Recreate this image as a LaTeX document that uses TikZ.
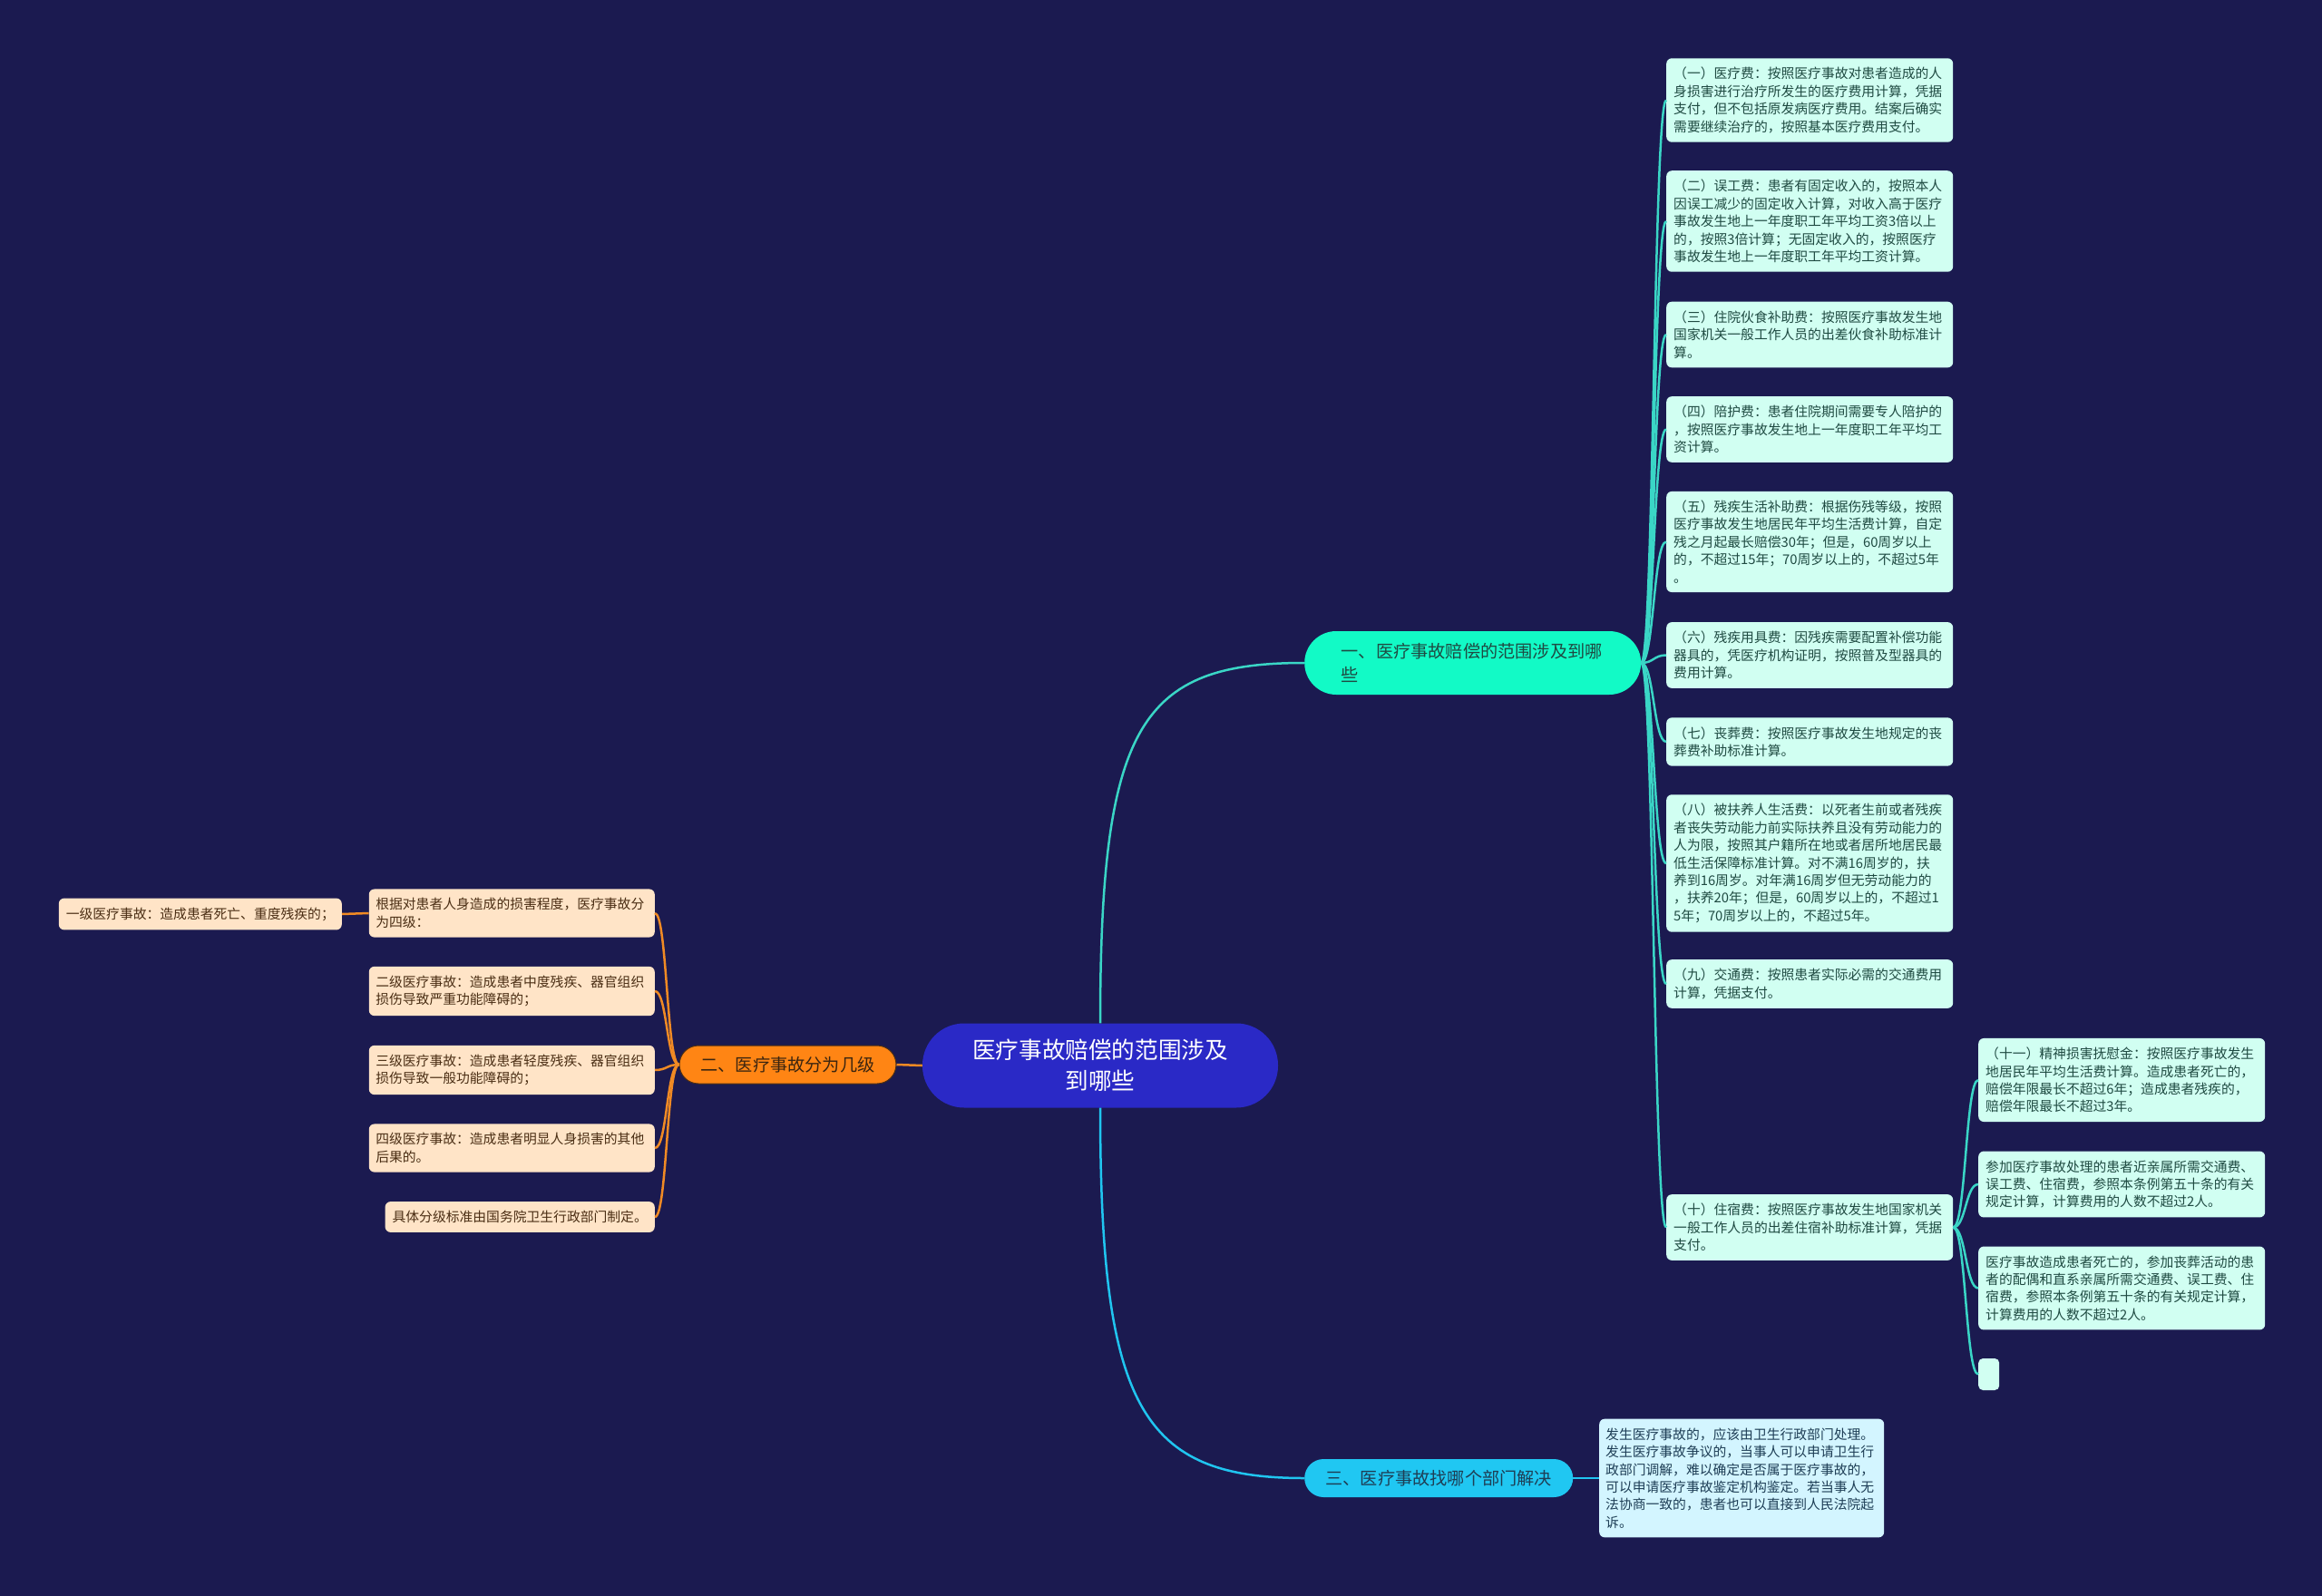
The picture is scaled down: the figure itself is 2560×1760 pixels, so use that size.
\documentclass[tikz,border=0pt]{standalone}
\usepackage{fontspec}
\setmainfont{Noto Sans CJK SC}
\usepackage{tikz}

\definecolor{bgnavy}{HTML}{1B1A50}
\definecolor{hubblue}{HTML}{2A29C6}
\definecolor{mintfill}{HTML}{12FAC6}
\definecolor{orangefill}{HTML}{FF8514}
\definecolor{skyfill}{HTML}{20C7F2}
\definecolor{cardmint}{HTML}{D1FFF2}
\definecolor{cardpeach}{HTML}{FFE4C7}
\definecolor{cardsky}{HTML}{D3F5FF}
\definecolor{inkmint}{HTML}{1F4A42}
\definecolor{inkpeach}{HTML}{4A2E14}
\definecolor{inksky}{HTML}{1E3E55}
\definecolor{wireteal}{HTML}{3AD6C6}
\definecolor{wirecyan}{HTML}{20C5F0}
\definecolor{wireorange}{HTML}{F08A24}

\begin{document}
\begin{tikzpicture}[
  x=1pt,
  y=-1pt,
  hub/.style={fill=hubblue,text=white,rounded corners=46pt,minimum width=392pt,
    minimum height=93pt,inner sep=0pt,align=center,font=\fontsize{25.6}{34}\selectfont},
  topic/.style={rounded corners=21pt,minimum height=42pt,inner sep=0pt,
    font=\fontsize{19.2}{26}\selectfont},
  card/.style={rounded corners=6pt,text width=300pt,inner xsep=8pt,inner ysep=10pt,
    align=left,font=\fontsize{14.8}{19.4}\selectfont},
  mint/.style={card,fill=cardmint,text=inkmint},
  peach/.style={card,fill=cardpeach,text=inkpeach},
  sky/.style={card,fill=cardsky,text=inksky},
  tealwire/.style={draw=wireteal,line width=2.5pt},
  cyanwire/.style={draw=wirecyan,line width=2.5pt},
  orangewire/.style={draw=wireorange,line width=2.5pt}
]
\fill[bgnavy] (0,0) rectangle (2560,1760);

% centre and the three branches
\node[hub] (root) at (1213,1175) {医疗事故赔偿的范围涉及\\到哪些};
\node[topic,fill=mintfill,text=inkmint,rounded corners=35pt,minimum width=371pt,
  minimum height=70pt,text width=290pt,align=left,anchor=west] (b1) at (1438,731)
  {一、医疗事故赔偿的范围涉及到哪\\些};
\node[topic,fill=orangefill,draw=inkpeach,line width=1pt,text=inkpeach!80!black,
  minimum width=239pt] (b2) at (868.5,1174) {二、医疗事故分为几级};
\node[topic,fill=skyfill,text=inksky,minimum width=296pt,anchor=west] (b3) at (1438,1630)
  {三、医疗事故找哪个部门解决};

% branch one
\node[mint,anchor=west] (c1) at (1837,110.5) {（一）医疗费：按照医疗事故对患者造成的人\\身损害进行治疗所发生的医疗费用计算，凭据\\支付，但不包括原发病医疗费用。结案后确实\\需要继续治疗的，按照基本医疗费用支付。};
\node[mint,anchor=west] (c2) at (1837,244) {（二）误工费：患者有固定收入的，按照本人\\因误工减少的固定收入计算，对收入高于医疗\\事故发生地上一年度职工年平均工资3倍以上\\的，按照3倍计算；无固定收入的，按照医疗\\事故发生地上一年度职工年平均工资计算。};
\node[mint,anchor=west] (c3) at (1837,369) {（三）住院伙食补助费：按照医疗事故发生地\\国家机关一般工作人员的出差伙食补助标准计\\算。};
\node[mint,anchor=west] (c4) at (1837,473.5) {（四）陪护费：患者住院期间需要专人陪护的\\，按照医疗事故发生地上一年度职工年平均工\\资计算。};
\node[mint,anchor=west] (c5) at (1837,597.5) {（五）残疾生活补助费：根据伤残等级，按照\\医疗事故发生地居民年平均生活费计算，自定\\残之月起最长赔偿30年；但是，60周岁以上\\的，不超过15年；70周岁以上的，不超过5年\\。};
\node[mint,anchor=west] (c6) at (1837,722.5) {（六）残疾用具费：因残疾需要配置补偿功能\\器具的，凭医疗机构证明，按照普及型器具的\\费用计算。};
\node[mint,anchor=west] (c7) at (1837,818) {（七）丧葬费：按照医疗事故发生地规定的丧\\葬费补助标准计算。};
\node[mint,anchor=west] (c8) at (1837,952) {（八）被扶养人生活费：以死者生前或者残疾\\者丧失劳动能力前实际扶养且没有劳动能力的\\人为限，按照其户籍所在地或者居所地居民最\\低生活保障标准计算。对不满16周岁的，扶\\养到16周岁。对年满16周岁但无劳动能力的\\，扶养20年；但是，60周岁以上的，不超过1\\5年；70周岁以上的，不超过5年。};
\node[mint,anchor=west] (c9) at (1837,1085) {（九）交通费：按照患者实际必需的交通费用\\计算，凭据支付。};
\node[mint,anchor=west] (c10) at (1837,1353.5) {（十）住宿费：按照医疗事故发生地国家机关\\一般工作人员的出差住宿补助标准计算，凭据\\支付。};

% under (十)
\node[mint,anchor=west] (d1) at (2181,1191) {（十一）精神损害抚慰金：按照医疗事故发生\\地居民年平均生活费计算。造成患者死亡的，\\赔偿年限最长不超过6年；造成患者残疾的，\\赔偿年限最长不超过3年。};
\node[mint,anchor=west] (d2) at (2181,1306) {参加医疗事故处理的患者近亲属所需交通费、\\误工费、住宿费，参照本条例第五十条的有关\\规定计算，计算费用的人数不超过2人。};
\node[mint,anchor=west] (d3) at (2181,1420.5) {医疗事故造成患者死亡的，参加丧葬活动的患\\者的配偶和直系亲属所需交通费、误工费、住\\宿费，参照本条例第五十条的有关规定计算，\\计算费用的人数不超过2人。};
\node[fill=cardmint,rounded corners=5pt,minimum width=23pt,minimum height=35pt,
  inner sep=0pt,anchor=west] (d4) at (2181,1515.5) {};

% branch two
\node[peach,anchor=east,inner xsep=7.5pt] (e1) at (722,1007) {根据对患者人身造成的损害程度，医疗事故分\\为四级：};
\node[peach,anchor=east,inner xsep=7.5pt] (e2) at (722,1093) {二级医疗事故：造成患者中度残疾、器官组织\\损伤导致严重功能障碍的；};
\node[peach,anchor=east,inner xsep=7.5pt] (e3) at (722,1180) {三级医疗事故：造成患者轻度残疾、器官组织\\损伤导致一般功能障碍的；};
\node[peach,anchor=east,inner xsep=7.5pt] (e4) at (722,1266) {四级医疗事故：造成患者明显人身损害的其他\\后果的。};
\node[peach,anchor=east,text width=,inner xsep=8pt] (e5) at (722,1342) {具体分级标准由国务院卫生行政部门制定。};
\node[peach,anchor=east,text width=,inner xsep=8pt] (e0) at (377,1008) {一级医疗事故：造成患者死亡、重度残疾的；};

% branch three
\node[sky,anchor=west,inner xsep=7pt] (f1) at (1763,1630) {发生医疗事故的，应该由卫生行政部门处理。\\发生医疗事故争议的，当事人可以申请卫生行\\政部门调解，难以确定是否属于医疗事故的，\\可以申请医疗事故鉴定机构鉴定。若当事人无\\法协商一致的，患者也可以直接到人民法院起\\诉。};

% connectors
\draw[tealwire] (root.north) .. controls +(0,-330) and +(-180,0) .. (b1.west);
\draw[cyanwire] (root.south) .. controls +(0,330) and +(-180,0) .. (b3.west);
\draw[orangewire] (root.west) -- (b2.east);
\foreach \i in {1,...,10}
  \draw[tealwire] (b1.east) .. controls +(14,0) and +(-14,0) .. (c\i.west);
\foreach \i in {1,...,4}
  \draw[tealwire] (c10.east) .. controls +(14,0) and +(-14,0) .. (d\i.west);
\foreach \i in {1,...,5}
  \draw[orangewire] (b2.west) .. controls +(-13.5,0) and +(13.5,0) .. (e\i.east);
\draw[orangewire] (e1.west) -- (e0.east);
\draw[cyanwire] (b3.east) -- (f1.west);
\end{tikzpicture}
\end{document}
